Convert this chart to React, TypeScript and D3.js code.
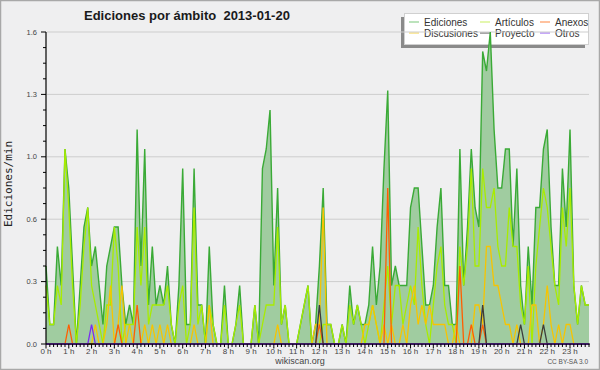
import React from "react";
import * as d3 from "d3";

// ---- data: edits per minute, one value every 10 minutes (144 points) ----
const EDICIONES = [
  0.4,0.1,0.1,0.5,0.3,1.0,0.8,0.4,0.0,0.3,0.6,0.7,
  0.4,0.5,0.3,0.1,0.4,0.5,0.6,0.6,0.3,0.1,0.2,0.1,
  1.1,0.4,1.0,0.2,0.5,0.2,0.3,0.2,0.4,0.1,0.0,0.3,
  0.9,0.1,0.1,0.9,0.2,0.2,0.0,0.5,0.1,0.0,0.0,0.3,
  0.0,0.0,0.1,0.3,0.0,0.0,0.0,0.2,0.0,0.9,1.0,1.2,
  0.3,0.8,0.1,0.2,0.0,0.0,0.0,0.1,0.2,0.3,0.0,0.1,
  0.4,0.8,0.1,0.1,0.0,0.0,0.1,0.0,0.3,0.1,0.2,0.1,
  0.1,0.2,0.5,0.2,0.4,0.9,1.3,0.3,0.4,0.3,0.3,0.3,
  0.7,0.8,0.8,0.5,0.2,0.2,0.3,0.6,0.8,0.3,0.3,0.1,
  0.1,1.0,0.3,0.6,1.0,0.7,0.6,1.5,1.4,1.6,1.1,0.8,
  0.8,1.0,1.0,0.5,0.9,0.3,0.1,0.5,0.2,0.7,0.7,1.0,
  1.1,0.6,0.3,0.3,0.9,0.6,1.1,0.3,0.1,0.3,0.2,0.2,
];
const ARTICULOS = [
  0.3,0.1,0.1,0.3,0.2,1.0,0.7,0.3,0.0,0.2,0.5,0.7,
  0.3,0.2,0.1,0.0,0.2,0.2,0.6,0.4,0.0,0.1,0.1,0.1,
  0.6,0.3,0.6,0.1,0.2,0.2,0.2,0.2,0.3,0.1,0.0,0.2,
  0.3,0.0,0.1,0.7,0.1,0.2,0.0,0.2,0.1,0.0,0.0,0.2,
  0.0,0.0,0.1,0.2,0.0,0.0,0.0,0.2,0.0,0.1,0.2,0.2,
  0.2,0.6,0.1,0.2,0.0,0.0,0.0,0.1,0.2,0.3,0.0,0.0,
  0.0,0.1,0.1,0.1,0.0,0.0,0.1,0.0,0.2,0.1,0.2,0.1,
  0.0,0.1,0.2,0.1,0.0,0.2,0.4,0.1,0.3,0.3,0.1,0.2,
  0.3,0.2,0.6,0.3,0.1,0.0,0.2,0.4,0.5,0.2,0.1,0.1,
  0.0,0.5,0.3,0.5,0.9,0.4,0.4,0.9,0.7,0.7,0.8,0.5,
  0.4,0.4,0.7,0.5,0.5,0.2,0.1,0.4,0.0,0.4,0.6,0.8,
  0.7,0.5,0.3,0.2,0.7,0.5,0.8,0.3,0.1,0.3,0.2,0.2,
];
const DISCUSIONES = [
  0,0,0,0,0,0,0,0,0,0,0,0,
  0,0.1,0,0,0.1,0.3,0,0.1,0.3,0,0.1,0,
  0,0,0.1,0,0.1,0,0.1,0,0.1,0,0,0,
  0,0,0,0.1,0,0,0,0.2,0,0,0,0,
  0,0,0,0,0,0,0,0,0,0,0,0,
  0,0.1,0,0,0,0,0,0,0,0,0,0.1,
  0.1,0.7,0,0,0,0,0,0,0,0,0,0,
  0.1,0.1,0.2,0.1,0,0.1,0,0.1,0,0,0.1,0,
  0.2,0.3,0.1,0.2,0.1,0.2,0.1,0.1,0.1,0.1,0,0,
  0.1,0,0,0,0,0.2,0.2,0.1,0.5,0.5,0.3,0.3,
  0.2,0.1,0.1,0,0.1,0,0,0,0.2,0.2,0,0.1,
  0.3,0.1,0,0.1,0,0.1,0.1,0,0,0,0,0,
];
const ANEXOS = [
  0,0,0,0,0,0,0.1,0,0,0,0,0,
  0,0,0,0,0,0,0,0.1,0,0,0,0,
  0.2,0,0,0,0,0,0,0,0,0,0,0,
  0,0,0,0,0,0,0,0,0,0,0,0,
  0,0,0,0,0,0,0,0,0,0,0,0,
  0,0,0,0,0,0,0,0,0,0,0,0,
  0.1,0,0,0,0,0,0,0,0,0,0,0,
  0,0,0,0,0,0,0.8,0,0,0,0,0,
  0,0,0,0,0,0,0,0,0,0,0,0,
  0,0.4,0,0,0.1,0,0,0.1,0,0,0,0,
  0,0,0,0,0,0,0,0,0,0,0,0,
  0,0,0,0,0,0,0,0,0,0,0,0,
];
const PROYECTO = [
  0,0,0,0,0,0,0,0,0,0,0,0,
  0,0,0,0,0,0,0,0,0,0,0,0,
  0,0,0,0,0,0,0,0,0,0,0,0,
  0,0,0,0,0,0,0,0,0,0,0,0,
  0,0,0,0,0,0,0,0,0,0,0,0,
  0,0,0,0,0,0,0,0,0,0,0,0,
  0.2,0,0,0,0,0,0,0,0,0,0,0,
  0,0,0,0,0,0,0,0,0,0,0,0,
  0,0,0,0,0,0,0,0,0,0,0,0,
  0,0,0,0,0,0,0,0.2,0,0,0,0,
  0,0,0,0,0,0.1,0,0,0,0,0,0.1,
  0,0,0,0,0,0,0,0,0,0,0,0,
];
const OTROS = [
  0,0,0,0,0,0,0,0,0,0,0,0,
  0.1,0,0,0,0,0,0,0,0,0,0,0,
  0,0,0,0,0,0,0,0,0,0,0,0,
  0,0,0,0,0,0,0,0,0,0,0,0,
  0,0,0,0,0,0,0,0,0,0,0,0,
  0,0,0,0,0,0,0,0,0,0,0,0,
  0,0,0,0,0,0,0,0,0,0,0,0,
  0,0,0,0,0,0,0,0,0,0,0,0,
  0,0,0,0,0,0,0,0,0,0,0,0,
  0,0,0,0,0,0,0,0,0,0,0,0,
  0,0,0,0,0,0,0,0,0,0,0,0,
  0,0,0,0,0,0,0,0,0,0,0,0,
];

const HOUR_LABELS = [
  "0 h","1 h","2 h","3 h","4 h","5 h","6 h","7 h","8 h","9 h","10 h","11 h",
  "12 h","13 h","14 h","15 h","16 h","17 h","18 h","19 h","20 h","21 h","22 h","23 h",
];
const Y_TICKS = [0, 0.32, 0.64, 0.96, 1.28, 1.6];
const TITLE = "Ediciones por ámbito  2013-01-20";
const Y_TITLE = "Ediciones/min";

const SERIES = [
  { name: "Ediciones", data: EDICIONES, color: "#3aaa36", legend: "#8fd08f" },
  { name: "Artículos", data: ARTICULOS, color: "#a8ec00", legend: "#d2f27a" },
  { name: "Discusiones", data: DISCUSIONES, color: "#f7c400", legend: "#f7d860" },
  { name: "Anexos", data: ANEXOS, color: "#ff5e00", legend: "#ff9a60" },
  { name: "Proyecto", data: PROYECTO, color: "#3c3c3c", legend: "#6a6a6a" },
  { name: "Otros", data: OTROS, color: "#7a2cf0", legend: "#a070f4" },
];
const LEGEND_ORDER = [
  ["Ediciones", "Artículos", "Anexos"],
  ["Discusiones", "Proyecto", "Otros"],
];

export default function App() {
  const W = 600, H = 370;
  const L = 46, R = 589, T = 32, B = 344;
  const n = EDICIONES.length;
  const x = d3.scaleLinear().domain([0, n - 1]).range([L, R]);
  const y = d3.scaleLinear().domain([0, 1.6]).range([B, T]);
  const line = d3.line<number>().x((_, i) => x(i)).y((d) => y(d));
  const area = d3.area<number>().x((_, i) => x(i)).y0(y(0)).y1((d) => y(d));
  const fmt = d3.format(".1f");
  const minorY = d3.range(0, 20 + 1).map((k) => k * 0.08);
  const bg = "#efeff0";
  const sans = "'Liberation Sans', Arial, sans-serif";

  const legendCols = [409, 480, 540];
  const legendRows = [22, 33];
  const byName: Record<string, (typeof SERIES)[number]> = {};
  SERIES.forEach((s) => (byName[s.name] = s));

  return (
    <svg
      width={W}
      height={H}
      style={{ position: "absolute", left: 0, top: 0, display: "block" }}
    >
      <rect x={0} y={0} width={W} height={H} fill={bg} />
      <rect x={0.5} y={0.5} width={W - 1} height={H - 1} fill="none" stroke="#a8a8a8" strokeWidth={1.5} />

      <text x={84} y={20} fontFamily={sans} fontWeight="bold" fontSize={13} fill="#1a1a1a" style={{ whiteSpace: "pre" }}>
        {TITLE}
      </text>

      {/* legend */}
      <rect x={401} y={17} width={184} height={31} fill="#8a8a8a" />
      <rect x={404.5} y={13.5} width={184} height={31} fill="#ffffff" stroke="#d0d0d0" />
      {LEGEND_ORDER.map((row, ri) =>
        row.map((name, ci) => {
          const s = byName[name];
          const lx = legendCols[ci];
          const ly = legendRows[ri];
          return (
            <g key={name}>
              <line x1={lx} x2={lx + 10} y1={ly} y2={ly} stroke={s.legend} strokeWidth={1.2} />
              <text x={lx + 15} y={ly + 3.5} fontFamily={sans} fontSize={10} fill="#333">
                {name}
              </text>
            </g>
          );
        })
      )}

      {/* grid */}
      {Y_TICKS.slice(1).map((v) => (
        <line key={v} x1={L + 1} x2={R} y1={y(v)} y2={y(v)} stroke="#cdcdcd" strokeWidth={1} />
      ))}

      {/* series */}
      <path d={area(EDICIONES) || ""} fill="#a0cca0" stroke="none" />
      {SERIES.map((s) => (
        <path
          key={s.name}
          d={line(s.data) || ""}
          fill="none"
          stroke={s.color}
          strokeWidth={s.name === "Ediciones" ? 1.4 : 1.3}
          strokeLinejoin="miter"
        />
      ))}

      {/* y axis */}
      <line x1={L} x2={L} y1={T} y2={B} stroke="#000" strokeWidth={1.2} />
      {minorY.map((v, k) => (
        <line key={k} x1={k % 4 === 0 ? L - 5 : L - 3} x2={L} y1={y(v)} y2={y(v)} stroke="#000" strokeWidth={1} />
      ))}
      {Y_TICKS.map((v) => (
        <text key={v} x={37} y={y(v) + 2.5} textAnchor="end" fontFamily={sans} fontSize={7.5} fill="#444">
          {fmt(v)}
        </text>
      ))}
      <text
        transform={`translate(12,${(T + B) / 2 - 4}) rotate(-90)`}
        textAnchor="middle"
        fontFamily="'DejaVu Sans Mono', monospace"
        fontSize={11}
        fill="#222"
      >
        {Y_TITLE}
      </text>

      {/* x axis */}
      <line x1={L} x2={R + 1} y1={B} y2={B} stroke="#000" strokeWidth={1.2} />
      {d3.range(n).map((i) => (
        <line key={i} x1={x(i)} x2={x(i)} y1={B} y2={i % 6 === 0 ? B + 4.5 : B + 3} stroke="#000" strokeWidth={1} />
      ))}
      {HOUR_LABELS.map((lab, h) => (
        <text key={lab} x={x(h * 6)} y={B + 10} textAnchor="middle" fontFamily={sans} fontSize={8} fill="#444">
          {lab}
        </text>
      ))}

      <text x={300} y={364} textAnchor="middle" fontFamily={sans} fontSize={9} fill="#444">
        wikiscan.org
      </text>
      <text x={588} y={364} textAnchor="end" fontFamily={sans} fontSize={6.5} fill="#555">
        CC BY-SA 3.0
      </text>
    </svg>
  );
}
